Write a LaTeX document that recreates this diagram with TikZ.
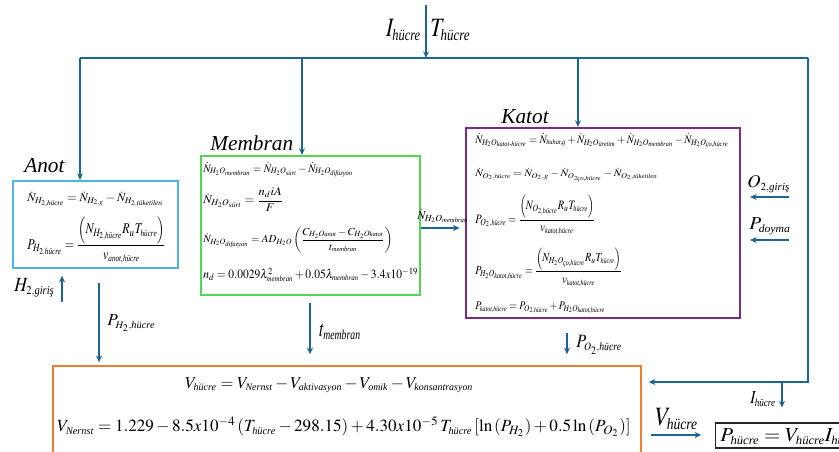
\documentclass[tikz,border=0pt]{standalone}
\usepackage{amsmath}
\usepackage{mathptmx}
\usepackage{fontspec}
\setmainfont{Liberation Serif}
\usetikzlibrary{arrows.meta}
\definecolor{arr}{HTML}{1F6391}
\definecolor{anotc}{HTML}{4DB3E6}
\definecolor{memc}{HTML}{57D357}
\definecolor{katc}{HTML}{7B2C7B}
\definecolor{orc}{HTML}{ED7D31}
\newcommand{\ts}[1]{{\scriptscriptstyle\text{\itshape #1}}}
\newcommand{\lb}[3]{\resizebox*{#1}{#2}{$#3$}}
\begin{document}
\begin{tikzpicture}[x=0.75pt,y=-0.75pt,
  flow/.style={draw=arr, line width=1.3pt, -{Stealth[length=5pt,width=4.5pt]}},
  plain/.style={draw=arr, line width=1.3pt},
  box/.style={draw, line width=1.6pt, inner sep=0pt},
  eq/.style={inner sep=0pt, anchor=west},
  lbl/.style={inner sep=0pt, anchor=west, font=\fontsize{17}{19}\selectfont},
  ttl/.style={inner sep=0pt, anchor=west, font=\fontsize{16}{18}\selectfont\itshape}]
\useasboundingbox (0,0) rectangle (839,452);

% boxes
\node[box, draw=anotc, minimum width=123.75pt, minimum height=65.25pt] (anot) at (95.5,224.5) {};
\node[box, draw=memc, minimum width=164.25pt, minimum height=104.25pt] (mem) at (310.5,225.5) {};
\node[box, draw=katc, minimum width=205.5pt, minimum height=142.5pt] (kat) at (603,223) {};
\node[box, draw=orc, minimum width=441pt, minimum height=70.5pt] (ors) at (347,413) {};
\node[box, draw=black!85, line width=1.3pt, minimum width=96.75pt, minimum height=18.75pt] (pbox) at (780,435.5) {};

% titles
\node[ttl] (tanot) at (24,166) {Anot};
\node[ttl] (tmem) at (210,143) {Membran};
\node[ttl] (tkat) at (501,117) {Katot};

% anot equations
\node[eq] (a1) at (27,199) {\resizebox*{102pt}{11.25pt}{$\dot N_{H_{2,\ts{hücre}}} = \dot N_{H_{2,g}} - \dot N_{H_{2,\ts{tüketilen}}}$}};
\node[eq] (a2) at (27,240) {\resizebox*{104pt}{35pt}{$P_{H_{2,\ts{hücre}}} = \dfrac{\left(N_{H_{2,\ts{hücre}}} R_u T_{\ts{hücre}}\right)}{v_{\ts{anot,hücre}}}$}};

% membran equations
\node[eq] (m1) at (203,170) {\resizebox*{112.5pt}{11pt}{$\dot N_{H_2O_{\ts{membran}}} = \dot N_{H_2O_{\ts{sürt}}} - \dot N_{H_2O_{\ts{difüzyon}}}$}};
\node[eq] (m2) at (203,200) {\resizebox*{60pt}{18pt}{$\dot N_{H_2O_{\ts{sürt}}} = \dfrac{n_d iA}{F}$}};
\node[eq] (m3) at (203,240) {\resizebox*{142pt}{19.5pt}{$\dot N_{H_2O_{\ts{difüzyon}}} = AD_{H_2O}\left(\dfrac{C_{H_2O\ts{anot}} - C_{H_2O\ts{katot}}}{t_{\ts{membran}}}\right)$}};
\node[eq] (m4) at (203,275) {\resizebox*{161pt}{10.5pt}{$n_d = 0.0029\lambda^2_{\ts{membran}} + 0.05\lambda_{\ts{membran}} - 3.4x10^{-19}$}};

% katot equations
\node[eq] (k1) at (475,141) {\resizebox*{190pt}{11pt}{$\dot N_{H_2O_{\ts{katot-hücre}}} = \dot N_{\ts{buhar,g}} + \dot N_{H_2O_{\ts{üretim}}} + \dot N_{H_2O_{\ts{membran}}} - \dot N_{H_2O_{\ts{ço,hücre}}}$}};
\node[eq] (k2) at (475,175) {\resizebox*{136.5pt}{9.5pt}{$\dot N_{O_2,\ts{hücre}} = \dot N_{O_2,g} - \dot N_{O_{2\ts{ço,hücre}}} - \dot N_{O_2,\ts{tüketilen}}$}};
\node[eq] (k3) at (475,215) {\resizebox*{90pt}{30pt}{$P_{O_2,\ts{hücre}} = \dfrac{\left(N_{O_{2,\ts{hücre}}} R_u T_{\ts{hücre}}\right)}{v_{\ts{katot,hücre}}}$}};
\node[eq] (k4) at (475,267) {\resizebox*{110pt}{29pt}{$P_{H_2O_{\ts{katot,hücre}}} = \dfrac{\left(N_{H_2O_{\ts{ço,hücre}}} R_u T_{\ts{hücre}}\right)}{v_{\ts{katot,hücre}}}$}};
\node[eq] (k5) at (475,308) {\resizebox*{97.5pt}{9.5pt}{$P_{\ts{katot,hücre}} = P_{O_{2,\ts{hücre}}} + P_{H_2O_{\ts{katot,hücre}}}$}};

% bottom equations
\node[eq] (b1) at (185,385) {\resizebox{216pt}{!}{$V_{\ts{hücre}} = V_{\ts{Nernst}} - V_{\ts{aktivasyon}} - V_{\ts{omik}} - V_{\ts{konsantrasyon}}$}};
\node[eq] (b2) at (57,427) {\resizebox{430pt}{!}{$V_{\ts{Nernst}} = 1.229 - 8.5x10^{-4}\left(T_{\ts{hücre}} - 298.15\right) + 4.30x10^{-5}\, T_{\ts{hücre}}\left[\ln\left(P_{H_2}\right) + 0.5\ln\left(P_{O_2}\right)\right]$}};
\node[lbl] (pe) at (720,436.5) {\lb{105pt}{12pt}{P_{\ts{hücre}} = V_{\ts{hücre}} I_{\ts{hücre}}}};

% labels
\node[lbl, anchor=east] (ilab) at (421,30) {\lb{26pt}{16pt}{I_{\ts{hücre}}}};
\node[lbl] (tlab) at (430,30) {\lb{30pt}{16pt}{T_{\ts{hücre}}}};
\node[lbl] (h2lab) at (14,288) {\lb{30pt}{14pt}{H_{\scriptscriptstyle 2,\text{\itshape giriş}}}};
\node[lbl] (ph2lab) at (107,323) {\lb{36pt}{12.5pt}{P_{\scriptscriptstyle H_2,\text{\itshape hücre}}}};
\node[lbl] (tmlab) at (319,332) {\lb{31pt}{12pt}{t_{\ts{membran}}}};
\node[lbl] (po2lab) at (576,345) {\lb{34pt}{14pt}{P_{\scriptscriptstyle O_2,\text{\itshape hücre}}}};
\node[lbl] (o2lab) at (747,184) {\lb{32pt}{12.75pt}{O_{\scriptscriptstyle 2,\text{\itshape giriş}}}};
\node[lbl] (pdlab) at (749,226) {\lb{31pt}{12.75pt}{P_{\ts{doyma}}}};
\node[lbl] (vlab) at (655,419) {\lb{32pt}{16pt}{V_{\ts{hücre}}}};
\node[lbl] (iblab) at (750,399) {\lb{19pt}{11pt}{I_{\ts{hücre}}}};
\node[inner sep=0pt, font=\fontsize{9}{10}\selectfont] (nlab) at (443,216) {$\dot N_{H_2O_{\ts{membran}}}$};

% connectors
\coordinate (src) at (426,5);
\coordinate (jn) at (426,58);
\coordinate (tl) at (80,58);
\coordinate (tr) at (808,58);
\coordinate (cm) at (302,58);
\coordinate (ck) at (578,58);
\coordinate (rc) at (808,382);
\coordinate (ib) at (782,382);
\draw[flow] (src) -- (jn);
\draw[plain] (tl) -- (tr);
\draw[flow] (tl) -- (tl |- anot.north);
\draw[flow] (cm) -- (cm |- mem.north);
\draw[flow] (ck) -- (ck |- kat.north);
\draw[flow, shorten >=5pt] (tr) -- (rc) -- (ors.east |- rc);
\draw[flow, shorten >=11pt] (ib) -- (ib |- pbox.north);

\coordinate (h2s) at (62,302);
\draw[flow, shorten >=5pt] (h2s) -- (h2s |- anot.south);
\coordinate (ph2s) at (99,283);
\draw[flow, shorten >=2pt] (ph2s) -- (ph2s |- ors.north);
\coordinate (tms) at (310,303);
\draw[flow, shorten >=8pt] (tms) -- (tms |- ors.north);
\coordinate (po2s) at (567,333);
\draw[flow, shorten >=8pt] (po2s) -- (po2s |- ors.north);

\coordinate (ny) at (0,228);
\draw[flow, shorten >=4pt] (mem.east |- ny) -- (kat.west |- ny);
\coordinate (o2s) at (789,197);
\draw[flow, shorten >=6.75pt] (o2s) -- (kat.east |- o2s);
\coordinate (pds) at (789,240);
\draw[flow, shorten >=6.75pt] (pds) -- (kat.east |- pds);
\coordinate (vy) at (0,435);
\draw[flow, shorten <=7pt, shorten >=10pt] (ors.east |- vy) -- (pbox.west |- vy);
\end{tikzpicture}
\end{document}
